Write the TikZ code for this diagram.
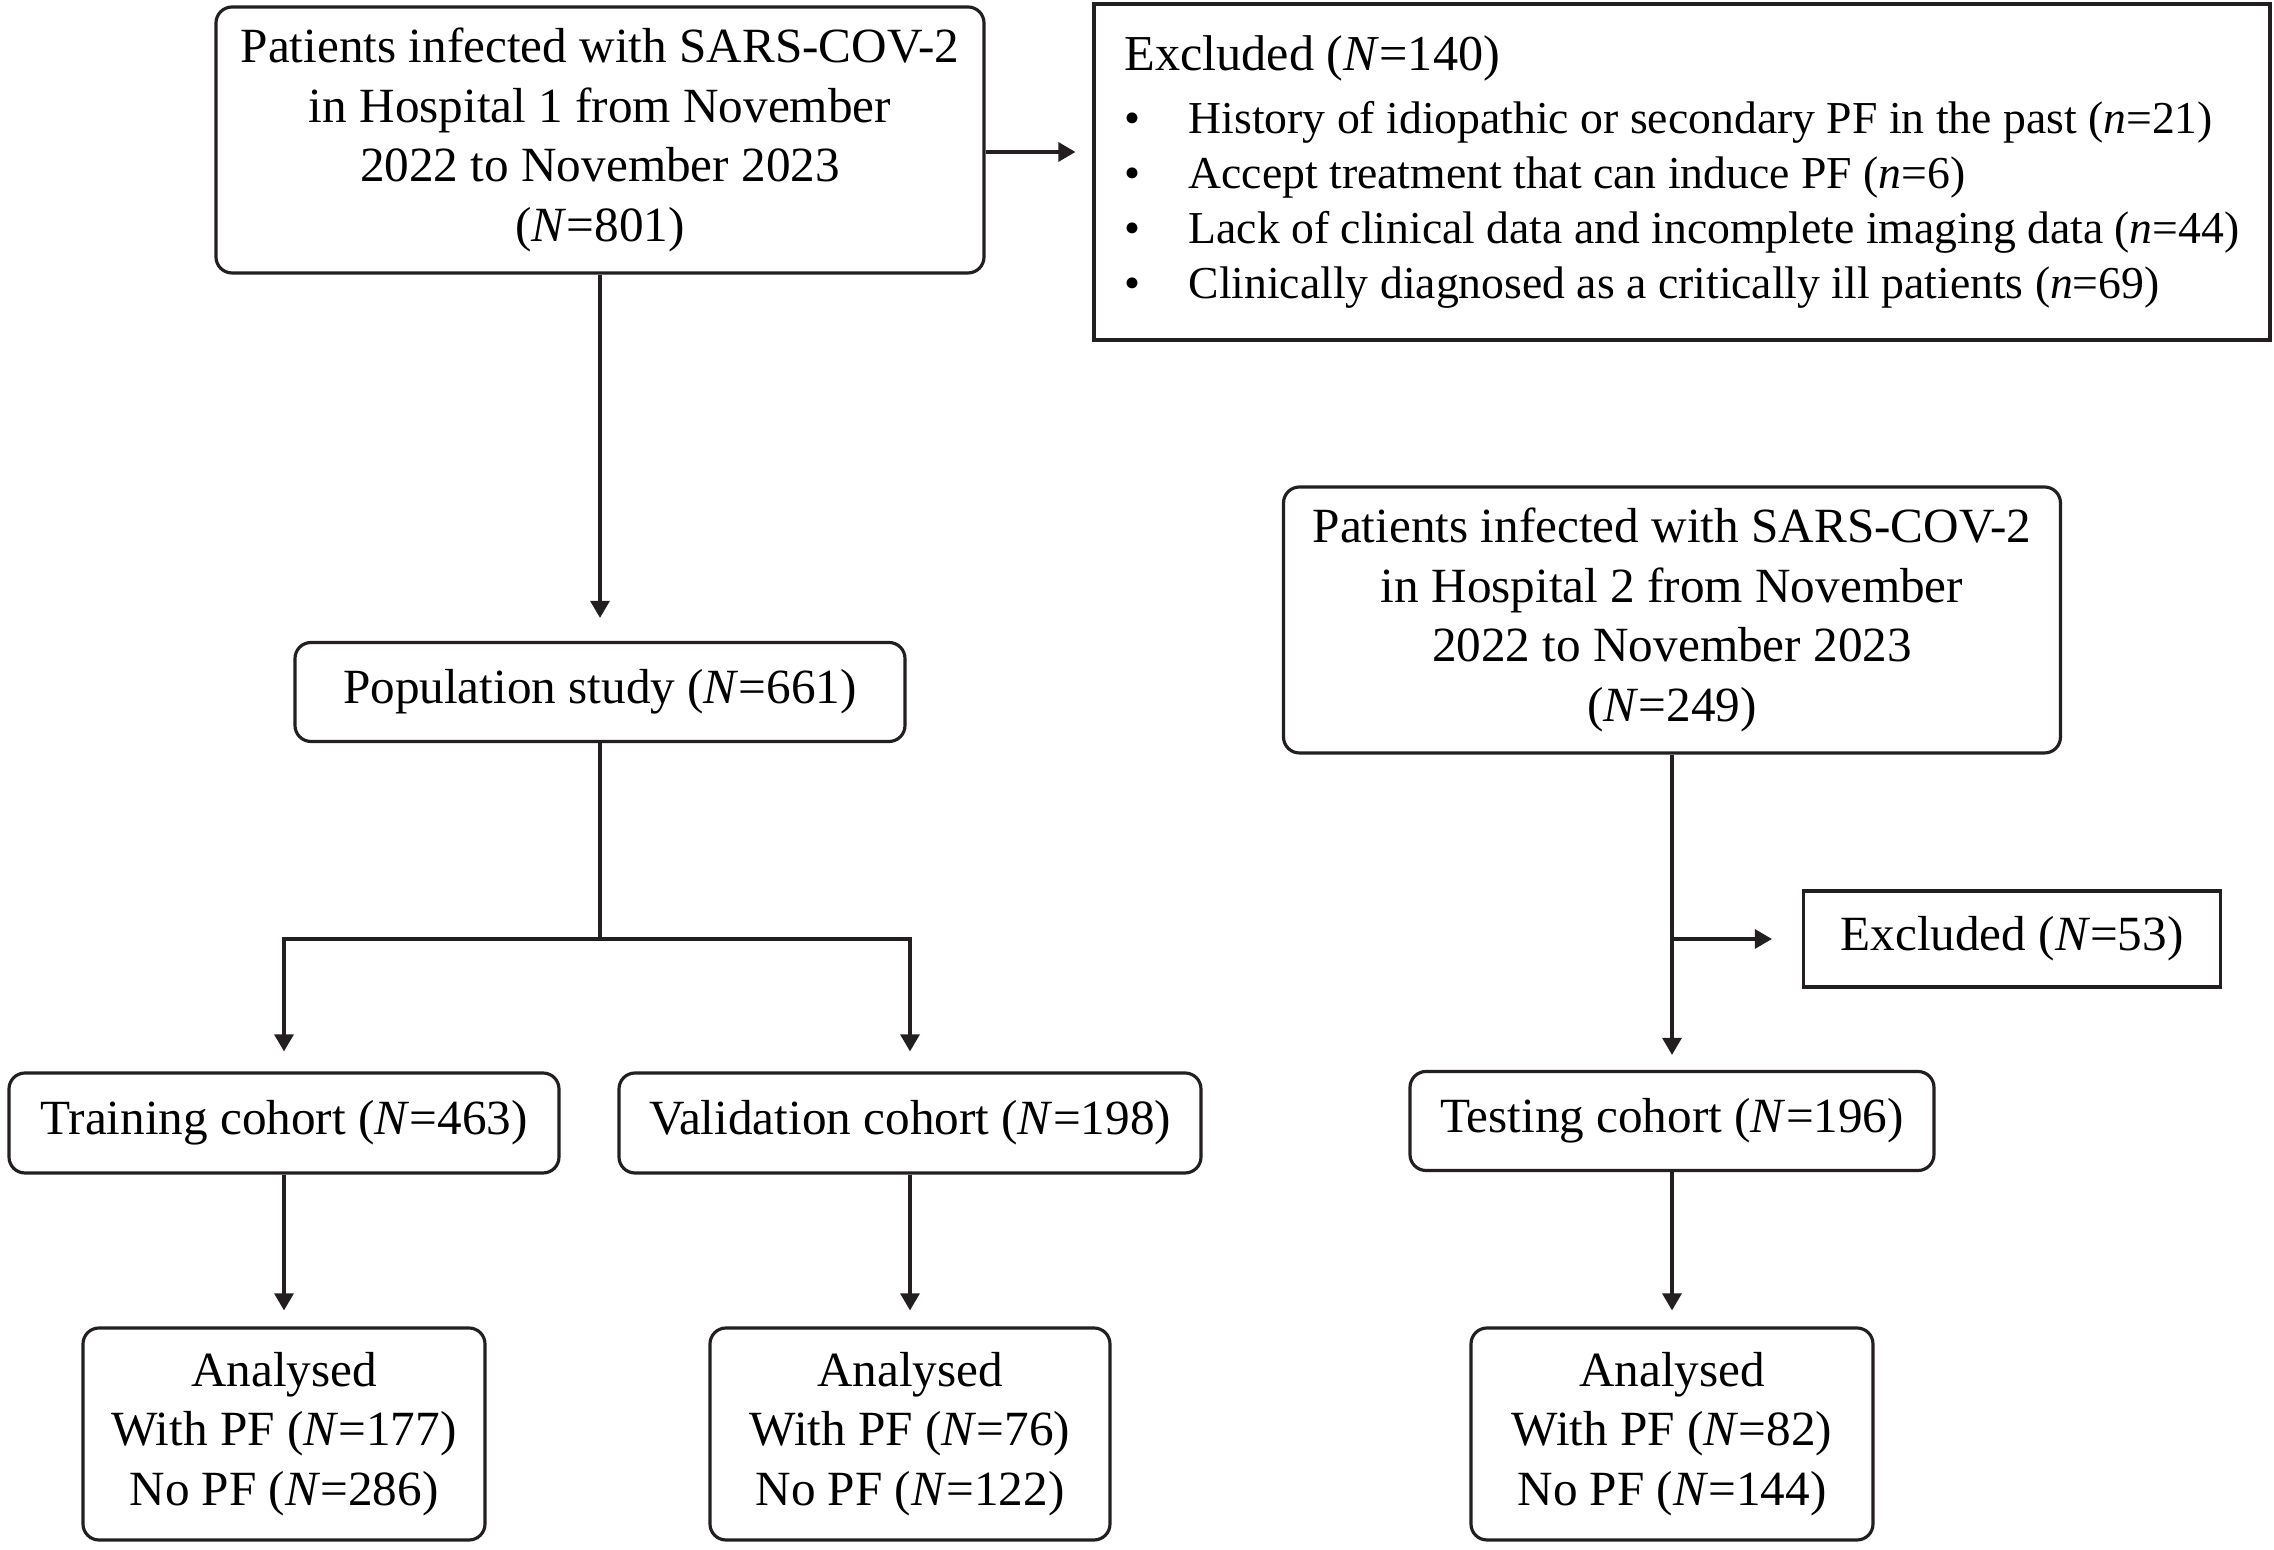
\documentclass[tikz,border=0pt]{standalone}
\usepackage{fontspec}
\setmainfont{Liberation Serif}
\usetikzlibrary{arrows.meta,positioning}

\definecolor{linegray}{HTML}{231F20}
\newcommand{\NN}{\textit{N}}
\newcommand{\nn}{\textit{n}}
\newcommand{\bul}{\makebox[6.4mm][l]{\textbullet}}

\tikzset{
	box/.style={draw=linegray, line width=0.9pt, rounded corners=1.6mm, align=center,
		inner sep=0pt, font=\fontsize{14}{17}\selectfont},
	sqbox/.style={box, rounded corners=0pt},
	arr/.style={draw=linegray, line width=0.9pt, -{Triangle[length=1.7mm,width=1.9mm]}, shorten >=2mm},
	ln/.style={draw=linegray, line width=0.9pt},
}

\begin{document}
\begin{tikzpicture}[x=0.1mm,y=-0.1mm]
	\useasboundingbox (0,0) rectangle (2274,1550);

	% hospital 1
	\node[box, minimum width=76.8mm, minimum height=26.6mm] (hosp1) at (600,140)
		{Patients infected with SARS-COV-2\\in Hospital 1 from November\\2022 to November 2023\\(\NN=801)};
	\node[sqbox, minimum width=117.6mm, minimum height=33.6mm, inner xsep=2.4mm,
		align=left, font=\fontsize{13}{15.6}\selectfont] (excl1) at (1682,172)
		{{\fontsize{14.3}{17}\selectfont Excluded (\NN=140)}\\[0.8mm]
		\bul History of idiopathic or secondary PF in the past (\nn=21)\\
		\bul Accept treatment that can induce PF (\nn=6)\\
		\bul Lack of clinical data and incomplete imaging data (\nn=44)\\
		\bul Clinically diagnosed as a critically ill patients (\nn=69)};
	\node[box, minimum width=61mm, minimum height=9.9mm] (pop) at (600,692) {Population study (\NN=661)};
	\coordinate (split) at (600,939);
	\node[box, minimum width=55mm, minimum height=10mm] (train) at (284,1123) {Training cohort (\NN=463)};
	\node[box, minimum width=58.2mm, minimum height=10mm] (valid) at (910,1123) {Validation cohort (\NN=198)};
	\node[box, minimum width=40.2mm, minimum height=21.2mm] (ana1) at (284,1434)
		{Analysed\\With PF (\NN=177)\\No PF (\NN=286)};
	\node[box, minimum width=40mm, minimum height=21.2mm] (ana2) at (910,1434)
		{Analysed\\With PF (\NN=76)\\No PF (\NN=122)};

	% hospital 2
	\node[box, minimum width=77.7mm, minimum height=26.6mm] (hosp2) at (1672,620)
		{Patients infected with SARS-COV-2\\in Hospital 2 from November\\2022 to November 2023\\(\NN=249)};
	\node[sqbox, minimum width=41.7mm, minimum height=9.6mm] (excl2) at (2012,939) {Excluded (\NN=53)};
	\node[box, minimum width=52.4mm, minimum height=9.9mm] (test) at (1672,1121) {Testing cohort (\NN=196)};
	\node[box, minimum width=40.2mm, minimum height=21.2mm] (ana3) at (1672,1434)
		{Analysed\\With PF (\NN=82)\\No PF (\NN=144)};

	% connectors
	\draw[arr, shorten >=1.7mm] ([yshift=-1.2mm]hosp1.east) -- ([yshift=-1.2mm]hosp1.east -| excl1.west);
	\draw[arr, shorten >=2.3mm] (hosp1) -- (pop);
	\draw[ln] (pop) -- (split);
	\draw[arr] (split) -| (train);
	\draw[arr] (split) -| (valid);
	\draw[arr, shorten >=1.6mm] (train) -- (ana1);
	\draw[arr, shorten >=1.6mm] (valid) -- (ana2);
	\draw[arr, shorten >=1.5mm] (hosp2) -- (test);
	\draw[arr, shorten >=3mm] (hosp2.south |- excl2) -- (excl2);
	\draw[arr, shorten >=1.6mm] (test) -- (ana3);
\end{tikzpicture}
\end{document}
